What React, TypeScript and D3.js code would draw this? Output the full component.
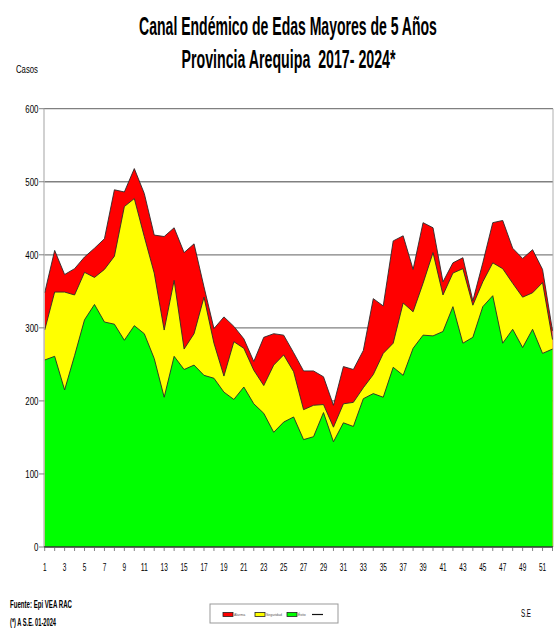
import React, { useLayoutEffect, useRef, useState } from "react";
import * as d3 from "d3";

const weeks: number[] = d3.range(1, 53);

// Zona de Éxito (green top)
const exito: number[] = [
  256, 261, 215, 262, 311, 332, 308, 305, 283, 303, 292, 258, 205, 261, 243, 249, 235, 231, 212, 202,
  219, 196, 183, 157, 171, 178, 147, 151, 184, 144, 170, 165, 203, 210, 205, 246, 235, 272, 290, 289,
  295, 329, 279, 287, 329, 344, 279, 298, 273, 298, 265, 271,
];
// Zona de Seguridad (yellow top)
const seguridad: number[] = [
  297, 349, 349, 345, 376, 369, 380, 398, 466, 477, 425, 375, 297, 365, 271, 292, 342, 279, 234, 281,
  272, 242, 221, 249, 263, 240, 188, 194, 195, 164, 196, 198, 218, 236, 265, 279, 334, 322, 361, 403,
  345, 375, 381, 331, 363, 389, 381, 361, 342, 348, 362, 284,
];
// Zona de Alarma (red top)
const alarma: number[] = [
  348, 406, 373, 381, 397, 409, 422, 489, 486, 518, 484, 427, 425, 437, 403, 415, 356, 299, 315, 302,
  285, 254, 287, 292, 290, 266, 241, 241, 233, 194, 247, 243, 269, 340, 330, 419, 426, 380, 444, 437,
  363, 389, 396, 337, 389, 444, 447, 409, 395, 407, 380, 296,
];

const yTicks: number[] = [0, 100, 200, 300, 400, 500, 600];
const xTickLabels: number[] = weeks.filter((w) => w % 2 === 1);
const legendLabels: string[] = ["Alarma", "Seguridad", "Éxito", ""];
const legendColors: string[] = ["#ff0000", "#ffff00", "#00ff00", "none"];

const FONT = "'Liberation Sans', Arial, sans-serif";

// Text condensed horizontally to a target width with a scale transform
const NText = ({ x, y, size, len, anchor = "start", bold = false, children }: any) => {
  const ref = useRef<SVGTextElement>(null);
  const [sx, setSx] = useState(1);
  useLayoutEffect(() => {
    if (ref.current) {
      const w = ref.current.getComputedTextLength();
      if (w > 0) setSx(len / w);
    }
  }, [len, children]);
  return (
    <text
      ref={ref}
      transform={`translate(${x},${y}) scale(${sx},1)`}
      fontSize={size}
      fontFamily={FONT}
      fontWeight={bold ? "bold" : "normal"}
      textAnchor={anchor}
      fill="#000"
      style={{ whiteSpace: "pre" }}
    >
      {children}
    </text>
  );
};

export default function App() {
  const W = 555;
  const H = 635;
  const xLeft = 44;
  const xRight = 553;
  const x = d3.scaleLinear().domain([1, 52]).range([44.7, 552.5]);
  const y = d3.scaleLinear().domain([0, 600]).range([547, 108.7]);

  const area = (vals: number[]) =>
    d3
      .area<number>()
      .x((_, i) => x(weeks[i]))
      .y0(y(0))
      .y1((d) => y(d))(vals) as string;
  const line = (vals: number[]) =>
    d3
      .line<number>()
      .x((_, i) => x(weeks[i]))
      .y((d) => y(d))(vals) as string;

  const series = [
    { vals: alarma, color: "#ff0000" },
    { vals: seguridad, color: "#ffff00" },
    { vals: exito, color: "#00ff00" },
  ];

  return (
    <svg
      width={W}
      height={H}
      style={{ position: "absolute", left: 0, top: 0, display: "block", background: "#fff" }}
    >
      {/* Title */}
      <NText x={288} y={35} size={26} len={298} anchor="middle" bold>
        Canal Endémico de Edas Mayores de 5 Años
      </NText>
      <NText x={288.5} y={68} size={26} len={214} anchor="middle" bold>
        {"Provincia Arequipa  2017- 2024*"}
      </NText>
      <NText x={16} y={73} size={10} len={22}>
        Casos
      </NText>

      {/* gridlines */}
      {yTicks
        .filter((t) => t > 0)
        .map((t) => (
          <line key={t} x1={xLeft} x2={xRight} y1={y(t)} y2={y(t)} stroke="#808080" strokeWidth={1.3} />
        ))}
      <line x1={xRight} x2={xRight} y1={y(600)} y2={y(0)} stroke="#b0b0b0" strokeWidth={1} />

      {/* areas */}
      {series.map((s, i) => (
        <g key={i}>
          <path d={area(s.vals)} fill={s.color} />
          <path d={line(s.vals)} fill="none" stroke="#2a2a2a" strokeWidth={0.9} />
        </g>
      ))}

      {/* y axis */}
      <line x1={xLeft} x2={xLeft} y1={y(600)} y2={y(0)} stroke="#b8b8b8" strokeWidth={1.3} />
      {yTicks.map((t) => (
        <g key={t}>
          <line x1={xLeft - 5} x2={xLeft} y1={y(t)} y2={y(t)} stroke="#808080" strokeWidth={1} />
          <NText x={38.5} y={y(t) + 4} size={11} len={String(t).length * 4.4} anchor="end">
            {String(t)}
          </NText>
        </g>
      ))}

      {/* x axis */}
      <line x1={xLeft} x2={xRight} y1={y(0)} y2={y(0)} stroke="#333" strokeWidth={1.6} />
      {weeks.map((w) => (
        <line key={w} x1={x(w)} x2={x(w)} y1={y(0)} y2={y(0) + 4} stroke="#666" strokeWidth={0.8} />
      ))}
      {xTickLabels.map((w) => (
        <NText key={w} x={x(w)} y={571} size={11} len={String(w).length * 3.6} anchor="middle">
          {String(w)}
        </NText>
      ))}

      {/* footer */}
      <NText x={10} y={608} size={10} len={62} bold>
        Fuente: Epi VEA RAC
      </NText>
      <NText x={10} y={626} size={10} len={46} bold>
        (*) A S.E. 01-2024
      </NText>
      <NText x={521} y={617} size={10} len={10}>
        S.E
      </NText>

      {/* legend */}
      <rect x={210} y={604} width={128} height={19} fill="#fff" stroke="#999" strokeWidth={1} />
      {legendLabels.map((lab, i) => {
        const lx = 223 + i * 32;
        return (
          <g key={i}>
            {legendColors[i] !== "none" ? (
              <rect x={lx} y={612.5} width={10} height={4} fill={legendColors[i]} stroke="#222" strokeWidth={0.8} />
            ) : (
              <line x1={lx - 7} x2={lx + 4} y1={614.5} y2={614.5} stroke="#111" strokeWidth={1.2} />
            )}
            {lab && (
              <text x={lx + 11} y={616} fontSize={3.5} fontFamily={FONT} fill="#555">
                {lab}
              </text>
            )}
          </g>
        );
      })}
    </svg>
  );
}
